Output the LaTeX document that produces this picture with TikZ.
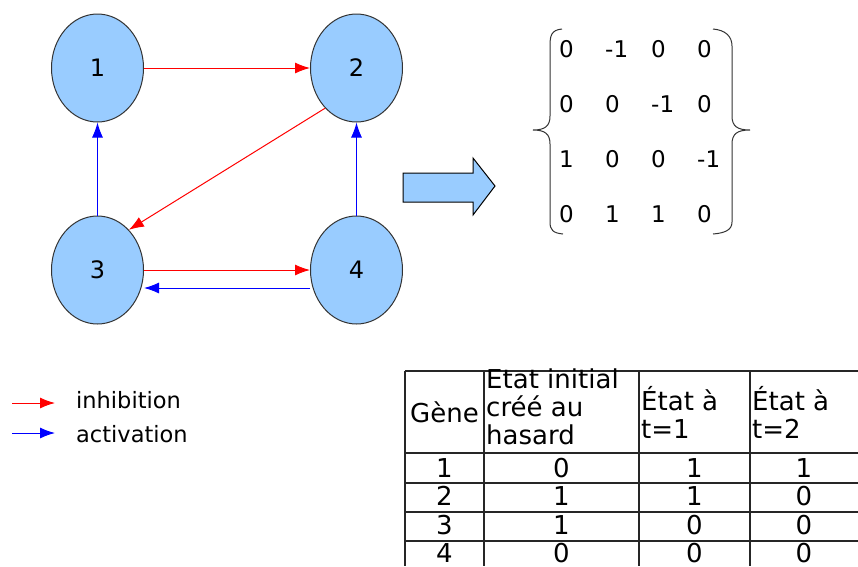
\documentclass[tikz,border=0pt]{standalone}
\usepackage{fontspec}
\setmainfont{DejaVu Sans}
\usepackage{xcolor}
\usetikzlibrary{arrows.meta,shapes.geometric}
\definecolor{geneblue}{HTML}{99CCFF}

\begin{document}
\begin{tikzpicture}[x=1pt,y=-1pt,
  gene/.style={ellipse,draw=black!80,line width=1pt,fill=geneblue,minimum width=92pt,minimum height=108pt,inner sep=0pt,font=\fontsize{24}{28}\selectfont},
  inhib/.style={red,line width=1pt,-{Latex[length=15pt,width=11pt]}},
  activ/.style={blue,line width=1pt,-{Latex[length=15pt,width=11pt]}},
  entry/.style={anchor=west,inner sep=0pt,font=\fontsize{23}{26}\selectfont},
  cell/.style={inner sep=0pt,font=\fontsize{26}{28}\selectfont},
  legend/.style={anchor=base west,inner sep=0pt,font=\fontsize{22.5}{26}\selectfont},
  grid/.style={black!85,line width=1.2pt}]
  \useasboundingbox (0,0) rectangle (858,566);

  % network
  \node[gene] (n1) at (97.5,68) {1};
  \node[gene] (n2) at (356.5,68) {2};
  \node[gene] (n3) at (97.5,270) {3};
  \node[gene] (n4) at (356.5,270) {4};
  \draw[inhib] (n1) -- (n2);
  \draw[inhib] (n2.232) -- (n3.52);
  \draw[inhib] (n3) -- (n4);
  \draw[activ] ([yshift=-18pt]n4.west) -- ([yshift=-18pt]n3.east);
  \draw[activ] (n3) -- (n1);
  \draw[activ] (n4) -- (n2);

  % big arrow
  \draw[fill=geneblue,line width=1pt] (403,173) -- (473,173) -- (473,158) -- (495,186)
    -- (473,215) -- (473,202) -- (403,202) -- cycle;

  % matrix
  \foreach \row [count=\i] in {{0,-1,0,0},{0,0,-1,0},{1,0,0,-1},{0,1,1,0}}
    \foreach \v [count=\j] in \row
      \node[entry] (m-\i-\j) at ({559+46*(\j-1)},{49+55*(\i-1)}) {\v};
  \draw[black!80,line width=1pt] (562,29) .. controls (551,30) and (550,36) .. (550,46)
    -- (550,116) .. controls (550,126) and (545,130) .. (533,130)
    .. controls (545,130) and (550,134) .. (550,144)
    -- (550,222) .. controls (550,230) and (553,233) .. (563,234);
  \draw[black!80,line width=1pt] (713,29) .. controls (725,30) and (732,36) .. (732,46)
    -- (732,116) .. controls (732,126) and (737,130) .. (750,130)
    .. controls (737,130) and (732,134) .. (732,144)
    -- (732,222) .. controls (732,230) and (725,233) .. (713,234);

  % legend
  \coordinate (i0) at (12,403);
  \coordinate (i1) at (55,403);
  \coordinate (a0) at (12,433);
  \coordinate (a1) at (55,433);
  \draw[inhib] (i0) -- (i1);
  \draw[activ] (a0) -- (a1);
  \node[legend] (inh) at (76,408) {inhibition};
  \node[legend] (act) at (76,442) {activation};

  % table
  \foreach \y in {371,453,483,512,541}
    \draw[grid] (405,\y) -- (858,\y);
  \foreach \x in {405,484,639,750}
    \draw[grid] (\x,371) -- (\x,566);
  \node[cell] (h1) at (444.5,412) {Gène};
  \node[cell,anchor=north west,align=left] (h2) at (486,369) {Etat initial\\créé au\\hasard};
  \node[cell,anchor=west,align=left] (h3) at (641,412) {État à\\t=1};
  \node[cell,anchor=west,align=left] (h4) at (752,412) {État à\\t=2};
  \foreach \g/\a/\b/\c [count=\k] in {1/0/1/1,2/1/1/0,3/1/0/0,4/0/0/0} {
    \node[cell] (g\k) at (444.5,{468+28.3*(\k-1)}) {\g};
    \node[cell] (a\k) at (561.5,{468+28.3*(\k-1)}) {\a};
    \node[cell] (b\k) at (694.5,{468+28.3*(\k-1)}) {\b};
    \node[cell] (c\k) at (804,{468+28.3*(\k-1)}) {\c};
  }
\end{tikzpicture}
\end{document}
